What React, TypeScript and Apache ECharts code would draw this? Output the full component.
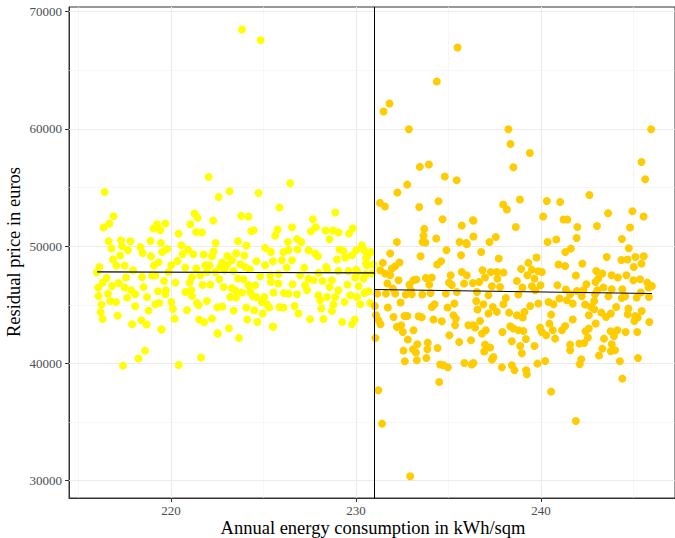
import React, { useEffect, useRef } from "react";
import * as echarts from "echarts";

// ---- Data ----
const xTitle = "Annual energy consumption in kWh/sqm";
const yTitle = "Residual price in euros";

const xMajorTicks = [220, 230, 240];
const xMinorTicks = [215, 225, 235, 245];
const yMajorTicks = [30000, 40000, 50000, 60000, 70000];
const yMinorTicks = [35000, 45000, 55000, 65000];

const threshold = 231;

const leftPoints: number[][] = [
  [223.83,68480],[224.84,67570],[222.03,55900],[226.44,55370],[216.41,54625],[223.16,54680],[224.73,54540],[222.57,54200],[225.86,53290],[228.88,52870],
  [216.89,52550],[216.66,51930],[216.35,51590],[216.62,50420],[216.78,49790],[217.29,50500],[217.35,49990],[217.8,50420],[217.67,49650],[217.24,49200],
  [216.86,48860],[217.04,48340],[216.12,48220],[215.99,47770],[216.51,47290],[216.3,46890],[216.06,46470],[216.08,45750],[216.23,45020],[216.19,44360],
  [216.3,43790],[217.11,44080],[216.81,46600],[216.59,45950],[216.71,45320],[217.02,45240],[217.16,46860],[217.49,46470],[217.56,47320],[217.62,45610],
  [218.06,45900],[217.85,46240],[218.06,44870],[217.89,43340],[218.39,43680],[218.68,43310],[218.24,40410],[218.59,41090],[217.4,39810],[217.49,48340],
  [217.94,47940],[218.43,47370],[218.51,46520],[218.7,45660],[218.78,44500],[218.34,49930],[218.46,49420],[218.88,50440],[218.91,49140],[219.05,51500],
  [219.24,51870],[219.42,51360],[219.69,51930],[219.45,50270],[219.52,49500],[219.79,49760],[219.32,48620],[219.07,48340],[218.97,47490],[219.15,47490],
  [219.62,47030],[219.72,46240],[219.69,45900],[219.29,46150],[219.15,45040],[219.36,45150],[219.49,42880],[220.41,39860],[220.01,45240],[220.1,44640],
  [220.19,43820],[220.24,46890],[220.34,48740],[220.41,51070],[220.55,50080],[220.62,49310],[219.86,47800],[220.01,48370],
  [221.27,52780],[221.43,52410],[221.04,51870],[222.28,52180],[223.79,52580],[224.19,52520],[221.35,51210],[221.67,51160],[224.34,51270],[224.46,51360],
  [225.76,51420],[225.63,50900],[222.41,50270],[223.62,50420],[224.07,50050],[225.09,49850],[220.91,49710],[221.2,49310],[221.76,49280],[222.3,49540],
  [222.21,49140],[223.04,49160],[223.52,49390],[223.96,49200],[225.4,49500],[226.08,49500],[224.62,48710],[225.51,48710],[225.99,48800],[222.75,48600],
  [223.29,48800],[220.77,48170],[221.36,48090],[221.85,48370],[222.08,48370],[222.66,48220],[223.02,48370],[223.74,48450],[224.01,48220],[225.09,48370],
  [221.94,47800],[222.39,47800],[222.89,47940],[223.38,47880],[224.28,48000],[224.82,47430],[225.36,47520],[225.81,47600],[221.58,47520],[221.13,47370],
  [221.0,46890],[222.61,47170],[223.62,47230],[223.92,47170],[225.4,46940],[225.81,46810],[221.7,46690],[222.12,46720],[222.84,46520],[223.29,46430],
  [224.19,46660],[224.55,46660],[221.09,46240],[220.77,46090],[223.47,46240],[223.83,46040],[224.28,46090],[225.54,46040],[226.1,46010],[221.13,45750],
  [223.2,45660],[223.51,45610],[224.43,45720],[224.61,45660],[225.05,45660],[221.94,45320],[224.91,45240],[225.18,45040],[221.4,45150],[221.49,44960],
  [220.86,44530],[222.5,44790],[222.77,44850],[224.07,44760],[224.5,44530],[224.95,44250],[225.31,44760],[225.86,44810],[226.08,44760],[223.38,44500],
  [221.52,43740],[221.79,43510],[222.21,43820],[224.12,43740],[224.66,43530],[225.52,43110],[223.13,43000],[222.51,42570],[223.67,42170],[221.62,40500],
  [222.53,42540],[219.47,42900],[225.49,43150],[229.78,43340],[229.25,43530],
  [227.67,52290],[226.54,51610],[227.83,51610],[227.56,51270],[228.35,51330],[228.75,51330],[229.05,51160],[229.83,51520],[229.62,51070],[228.57,50590],
  [226.81,50610],[227.04,50360],[226.32,50360],[226.35,49650],[226.84,49710],[227.43,49650],[227.79,49370],[227.94,49140],[229.11,49710],[229.32,49590],
  [230.01,49650],[230.32,50080],[230.44,49650],[230.82,49500],[226.54,48800],[228.97,48860],[229.42,49030],[229.78,49220],[230.55,49000],[226.26,48170],
  [227.2,48170],[228.39,48220],[230.59,48370],[230.95,48430],[226.98,47520],[227.97,47710],[228.43,48000],[229.05,47880],[229.59,47880],[230.01,48000],
  [230.5,47600],[230.86,47660],[227.43,47230],[227.7,47090],[228.19,47030],[228.7,47090],[229.96,47320],[230.41,47230],[226.57,46750],[227.25,46660],
  [228.57,46520],[229.54,46720],[230.14,46580],[229.05,46240],[230.68,46150],[226.35,45950],[226.81,45900],[227.35,46240],[227.97,45810],[228.43,45660],
  [228.88,45660],[229.69,45810],[230.05,45660],[230.46,46010],[228.06,45380],[226.68,44900],[228.78,45020],[229.38,45240],[230.23,45040],[226.89,44250],
  [228.12,44680],[228.7,44470],[227.52,43760],[228.24,43790],[229.93,43740],[230.59,49080],[230.55,48510],[230.08,47800],[230.55,46090],[230.77,45150]
];

const rightPoints: number[][] = [
  [235.49,66945],[234.37,64045],[231.81,62170],[231.49,61485],[232.86,59975],[238.24,59975],[238.35,58720],[239.4,57950],[238.51,56730],[245.96,59975],
  [245.44,57180],[245.64,55710],[233.45,56760],[233.94,56960],[234.8,55940],[235.44,55620],[232.77,55250],[232.24,54570],[242.62,54370],[231.29,53690],
  [231.56,53380],[233.42,53345],[234.46,53830],[238.86,53975],[240.32,53855],[241.04,53770],[237.96,53550],[244.95,52980],[243.63,52810],[240.12,52525],
  [245.55,52525],
  [231.21,37700],[231.41,34860],[232.93,30370],[234.5,38410],[240.55,37590],[241.89,35090],[244.4,38700],[231.05,42170],[234.97,39670],[234.55,39900],
  [238.57,39410],[239.24,39070],[239.81,39980],[240.23,40200],[237.89,39670],[235.86,40030],[236.26,39900],[242.1,39920],[245.25,40460],[244.27,40180],
  [232.64,40180],[233.29,40260],[237.4,40460],
  [234.68,52290],[235.72,51760],[233.69,51470],[233.65,50900],[233.6,50360],[233.75,50310],[234.34,50650],[235.6,50360],[235.96,50270],[232.21,50360],
  [234.89,49650],[231.85,49370],[233.49,49140],[235.68,49220],[234.6,48710],[234.39,48430],[231.45,48570],[232.35,48600],[232.12,48280],[231.94,48090],
  [231.31,47940],[231.58,47660],[231.85,47520],[231.7,46810],[232.3,47090],[233.11,47090],[233.26,47150],[233.78,47290],[234.1,47320],[233.96,46720],
  [232.89,46720],[235.12,47520],[235.72,47800],[235.99,47520],[235.03,46890],[235.18,46690],[235.84,46810],[231.99,46380],[232.96,46240],[231.15,45950],
  [231.62,45950],[232.12,45950],[232.69,45870],[233.02,45900],[233.58,45870],[234.03,46010],[234.86,45950],[235.45,46090],[231.02,44900],[231.72,44760],
  [232.41,45190],[234.25,45040],[234.1,44810],[234.95,44760],[235.32,45100],[231.08,44100],[231.21,43680],[231.32,43340],[232.03,43960],[232.62,44040],
  [232.78,44040],[233.38,44020],[233.56,43930],[234.19,43740],[234.64,43590],[235.27,44100],[235.4,43820],[235.36,43250],[232.21,43110],[232.44,43250],
  [232.53,42680],[233.11,42820],[232.8,42030],[233.32,41630],[233.88,41770],[235.05,42400],[235.58,41830],[232.57,41090],[233.08,41200],[233.24,40920],
  [233.86,41200],[234.41,41310],[233.81,40460],[234.73,39840],
  [238.16,53120],[241.22,52270],[241.43,52270],[238.64,51640],[236.35,52180],[236.35,50820],[237.22,50360],[237.56,50780],[240.36,50360],[240.83,50560],
  [236.77,49500],[237.72,48940],[241.32,49500],[241.62,49790],[239.76,49030],[239.32,48570],[240.95,48430],[241.31,48310],[238.93,48050],[236.84,47940],
  [237.29,47800],[237.62,47800],[237.97,47750],[239.51,48000],[239.86,47860],[240.05,47800],[239.27,47520],[236.98,47320],[237.65,47230],[238.7,47030],
  [239.65,47230],[236.66,46940],[237.35,46580],[237.79,46520],[239.0,46470],[239.51,46580],[239.98,46660],[239.69,46240],[240.89,46660],[241.35,46300],
  [236.54,46090],[237.16,45810],[238.78,45870],[238.1,45580],[236.5,45320],[236.89,45040],[237.97,45040],[239.86,45100],[240.41,45240],[240.68,45040],
  [241.0,45530],[241.4,45380],[236.57,44590],[237.16,44250],[237.4,44810],[237.62,44390],[238.28,44330],[239.11,44390],[239.42,44900],[238.7,44100],
  [239.02,43910],[240.55,44160],[236.71,43620],[236.35,43250],[238.34,43160],[238.51,42970],[239.05,42760],[238.78,42820],[239.95,43050],[240.46,43390],
  [241.31,43190],[237.02,42820],[236.81,42540],[237.92,42680],[240.05,42680],[240.28,42400],[240.64,42820],[241.14,42820],[238.43,41880],[239.19,42080],
  [240.77,42110],[236.98,41600],[237.25,41350],[238.88,41480],[239.65,41480],[236.93,41010],[238.97,40860],[237.43,40550],[237.35,40320],[238.43,39840],
  [239.2,39410],
  [235.99,50160],[236.32,52210],[236.08,43250],[236.22,41970],[236.35,40030],[236.44,43050],[236.32,46860],
  [244.82,51590],[241.97,51640],[243.03,51720],[244.38,50610],[241.93,50700],[244.75,49820],[243.56,49080],[244.35,48820],[244.68,48860],[245.11,49080],
  [245.56,49140],[245.02,48220],[245.44,48510],[242.24,48510],[242.99,47880],[241.89,47490],[243.32,47660],[243.82,47520],[244.16,47320],[244.62,47520],
  [243.1,47230],[242.95,46940],[245.36,47170],[245.0,47090],[242.46,46750],[245.75,46890],[246.0,46600],[245.82,46470],[241.94,46180],[242.3,46240],
  [243.05,46240],[243.38,46470],[243.83,46320],[244.4,46320],[241.58,45900],[242.21,45720],[242.93,45900],[243.65,45720],[244.37,45580],[244.55,45720],
  [245.18,45610],[245.4,46040],[245.84,45660],[241.72,45100],[242.39,45020],[242.88,45320],[242.71,44810],[242.88,44610],[244.07,44810],[244.73,44680],
  [245.45,44470],[243.27,44330],[242.59,44100],[243.78,44250],[244.69,44190],[245.1,44040],[245.23,43910],[241.72,43740],[245.05,43620],[245.86,43530],
  [242.96,43400],[243.52,43960],[242.59,42970],[242.41,42740],[243.77,42740],[244.13,42820],[244.58,42680],[245.21,42680],[242.54,42200],[243.95,42340],
  [243.41,42110],[241.58,41600],[242.08,41690],[242.34,41740],[243.83,41630],[243.32,41260],[243.78,41030],[244.01,41120],[241.58,41120],[242.18,40350],
  [243.14,40670]
];

const leftFit: number[][] = [[216.0, 47806], [231.0, 47720]];
const rightFit: number[][] = [[231.0, 46300], [246.0, 45960]];

const xRange = [214.48, 247.25];
const yRange = [28515, 70401];

const SERIF = "'Liberation Serif', 'Times New Roman', serif";

export default function App() {
  const ref = useRef<HTMLDivElement>(null);

  useEffect(() => {
    if (!ref.current) return;
    const chart = echarts.init(ref.current, null, { renderer: "svg" });

    const majorStyle = { color: "#EBEBEB", width: 1.1, type: "solid" as const };
    const minorStyle = { color: "#F2F2F2", width: 0.6, type: "solid" as const };

    const gridLines = [
      ...xMajorTicks.map((v) => ({ xAxis: v, lineStyle: majorStyle })),
      ...xMinorTicks.map((v) => ({ xAxis: v, lineStyle: minorStyle })),
      ...yMajorTicks.map((v) => ({ yAxis: v, lineStyle: majorStyle })),
      ...yMinorTicks.map((v) => ({ yAxis: v, lineStyle: minorStyle })),
    ];

    chart.setOption({
      animation: false,
      backgroundColor: "#FFFFFF",
      grid: {
        left: 69,
        right: 0,
        top: 7,
        bottom: 40,
        show: true,
        borderColor: "#333333",
        borderWidth: 1,
        backgroundColor: "transparent",
      },
      xAxis: {
        type: "value",
        min: xRange[0],
        max: xRange[1],
        splitLine: { show: false },
        axisLine: { show: true, onZero: false, lineStyle: { color: "#333333", width: 1 } },
        axisTick: { show: true, length: 4, lineStyle: { color: "#333333" }, customValues: xMajorTicks },
        axisLabel: {
          customValues: xMajorTicks,
          color: "#4D4D4D",
          fontFamily: SERIF,
          fontSize: 13,
          margin: 6,
          formatter: (v: number) => String(v),
        },
      },
      yAxis: {
        type: "value",
        min: yRange[0],
        max: yRange[1],
        splitLine: { show: false },
        axisLine: { show: true, onZero: false, lineStyle: { color: "#333333", width: 1 } },
        axisTick: { show: true, length: 4, lineStyle: { color: "#333333" }, customValues: yMajorTicks },
        axisLabel: {
          customValues: yMajorTicks,
          color: "#4D4D4D",
          fontFamily: SERIF,
          fontSize: 13,
          margin: 7,
          formatter: (v: number) => String(v),
        },
      },
      graphic: [
        {
          type: "text",
          x: 373,
          y: 528,
          style: {
            text: xTitle,
            fontFamily: SERIF,
            fontSize: 18.5,
            fill: "#000000",
            align: "center",
            verticalAlign: "middle",
          },
        },
        {
          type: "text",
          x: 14,
          y: 252,
          rotation: Math.PI / 2,
          style: {
            text: yTitle,
            fontFamily: SERIF,
            fontSize: 18.5,
            fill: "#000000",
            align: "center",
            verticalAlign: "middle",
          },
        },
      ],
      series: [
        {
          name: "below",
          type: "scatter",
          data: leftPoints,
          symbolSize: 8,
          itemStyle: { color: "#FFFF00", opacity: 1 },
          z: 2,
          markLine: {
            silent: true,
            symbol: ["none", "none"],
            label: { show: false },
            z: 1,
            data: gridLines,
          },
        },
        {
          name: "above",
          type: "scatter",
          data: rightPoints,
          symbolSize: 8,
          itemStyle: { color: "#FFCC00", opacity: 1 },
          z: 2,
          markLine: {
            silent: true,
            symbol: ["none", "none"],
            label: { show: false },
            z: 5,
            lineStyle: { color: "#000000", width: 1, type: "solid" },
            data: [{ xAxis: threshold }],
          },
        },
        {
          type: "line",
          data: leftFit,
          showSymbol: false,
          symbol: "none",
          lineStyle: { color: "#000000", width: 1.1 },
          z: 4,
          silent: true,
        },
        {
          type: "line",
          data: rightFit,
          showSymbol: false,
          symbol: "none",
          lineStyle: { color: "#000000", width: 1.1 },
          z: 4,
          silent: true,
        },
      ],
    });

    return () => chart.dispose();
  }, []);

  return (
    <div
      ref={ref}
      style={{ position: "absolute", left: 0, top: 0, width: 675, height: 538 }}
    />
  );
}
